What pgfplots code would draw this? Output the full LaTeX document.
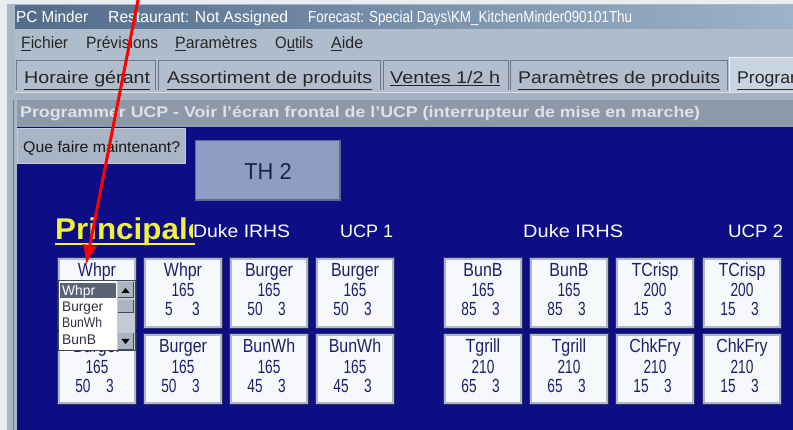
\documentclass[border=0pt]{standalone}
\usepackage{pgfplots}
\pgfplotsset{compat=1.18}
\usetikzlibrary{arrows.meta}
\usepackage{graphicx}
\usepackage{fontspec}
\setmainfont{Liberation Sans}
\definecolor{pagebg}{HTML}{E9EDF2}
\definecolor{panel}{HTML}{A9B6C6}
\definecolor{titleL}{HTML}{536C8A}
\definecolor{titleR}{HTML}{9CB3C9}
\definecolor{menubg}{HTML}{AEBCCB}
\definecolor{tabbg}{HTML}{B2BECD}
\definecolor{tabsel}{HTML}{C8D4E1}
\definecolor{tabline}{HTML}{6E7A8A}
\definecolor{sepbg}{HTML}{A6B2C1}
\definecolor{headbg}{HTML}{8D98A8}
\definecolor{headtx}{HTML}{DDE1E8}
\definecolor{navy}{HTML}{0D0D86}
\definecolor{btnbg}{HTML}{A9B4C5}
\definecolor{thbg}{HTML}{8E9DC3}
\definecolor{thline}{HTML}{5A6A92}
\definecolor{thtx}{HTML}{1C2444}
\definecolor{cellout}{HTML}{2B3060}
\definecolor{cellframe}{HTML}{AEB6CE}
\definecolor{cellin}{HTML}{F7F8FC}
\definecolor{celltx}{HTML}{1E2068}
\definecolor{yel}{HTML}{F2F23C}
\definecolor{ddframe}{HTML}{404858}
\definecolor{ddsel}{HTML}{5A6275}
\definecolor{ddtx}{HTML}{303040}
\definecolor{sbbg}{HTML}{C4CAD4}
\definecolor{sbbtn}{HTML}{ACB4C0}
\newsavebox\tmpbox
\newcommand{\rect}[5]{\addplot[draw=none, fill=#5, mark=none] coordinates {(#1,#2) (#3,#2) (#3,#4) (#1,#4)} --cycle;}
% fit text horizontally to a width, keeping the font's height
\newcommand{\fitx}[5]{\node[anchor=base west, inner sep=0pt, text=#5] at (axis cs:#1,#2) {\sbox\tmpbox{#4}\pgfmathsetmacro\sx{#3/\wd\tmpbox}\scalebox{\sx}[1]{\usebox\tmpbox}};}
\newcommand{\fs}[1]{\fontsize{#1}{#1}\selectfont}
\newcommand{\ct}[3]{\node[anchor=base, inner sep=0pt, text=celltx] at (axis cs:#1,#2) {\scalebox{0.72}[1]{\fs{19}#3}};}
\newcommand{\cn}[3]{\node[anchor=base, inner sep=0pt, text=celltx] at (axis cs:#1,#2) {\scalebox{0.84}[1]{\fs{19}#3}};}
% cell: x1, y1, name, value, a, b
\newcommand{\cell}[6]{%
  \rect{#1}{#2}{#1+80}{#2+72}{cellout}
  \rect{#1+1}{#2+1}{#1+79}{#2+71}{cellframe}
  \rect{#1+3}{#2+3}{#1+77}{#2+69}{cellin}
  \cn{#1+40}{#2+20}{#3}
  \ct{#1+40}{#2+40}{#4}
  \ct{#1+26}{#2+59}{#5}
  \ct{#1+53}{#2+59}{#6}
}
\begin{document}
\begin{tikzpicture}
\begin{axis}[
  scale only axis, width=793pt, height=430pt,
  xmin=0, xmax=793, ymin=0, ymax=430, y dir=reverse,
  hide axis, clip=true]
% background and frame
\rect{0}{0}{793}{430}{pagebg}
\rect{7}{4}{793}{430}{panel}
% title bar
\addplot[draw=none, left color=titleL, right color=titleR, mark=none] coordinates {(15,6) (793,6) (793,29) (15,29)} --cycle;
\fitx{16}{23}{72}{\fs{16}PC Minder}{white}
\fitx{108}{23}{180}{\fs{16}Restaurant: Not Assigned}{white}
\fitx{308}{23}{324}{\fs{16}Forecast: Special Days\textbackslash KM\_KitchenMinder090101Thu}{white}
% menu bar
\rect{15}{29}{793}{56}{menubg}
\fitx{21}{49}{47}{\fs{16.5}\underline{F}ichier}{black!85}
\fitx{86}{49}{72}{\fs{16.5}P\underline{r}évisions}{black!85}
\fitx{175}{49}{82}{\fs{16.5}\underline{P}aramètres}{black!85}
\fitx{275}{49}{38}{\fs{16.5}O\underline{u}tils}{black!85}
\fitx{331}{49}{32}{\fs{16.5}\underline{A}ide}{black!85}
% tab row
\rect{15}{56}{793}{92}{tabbg}
\rect{16}{60}{156}{90}{tabline}
\rect{17}{61}{155}{90}{tabbg}
\rect{158}{60}{381}{90}{tabline}
\rect{159}{61}{380}{90}{tabbg}
\rect{383}{60}{509}{90}{tabline}
\rect{384}{61}{508}{90}{tabbg}
\rect{510}{60}{728}{90}{tabline}
\rect{511}{61}{727}{90}{tabbg}
\rect{729}{57}{793}{92}{white!70!tabsel}
\rect{730}{58}{793}{92}{tabsel}
\fitx{24}{84}{126}{\fs{17}\underline{Horaire gérant}}{black!85}
\fitx{167}{84}{205}{\fs{17}\underline{Assortiment de produits}}{black!85}
\fitx{390}{84}{110}{\fs{17}\underline{Ventes 1/2 h}}{black!85}
\fitx{518}{84}{202}{\fs{17}\underline{Paramètres de produits}}{black!85}
\fitx{737}{84}{98}{\fs{17}\underline{Programmer}}{black!85}
% separator
\rect{15}{92}{793}{100}{sepbg}
\rect{15}{92}{793}{93}{white!60!sepbg}
% header bar
\rect{15}{100}{793}{127}{headbg}
\fitx{20}{118}{680}{\fs{15.5}\bfseries Programmer UCP - Voir l'écran frontal de l'UCP (interrupteur de mise en marche)}{headtx}
% left border inside panel
\rect{7}{100}{17}{430}{panel}
\rect{13}{100}{14}{430}{tabline}
% blue area
\rect{17}{127}{793}{430}{navy}
% Que faire button
\rect{17}{128}{186}{164}{btnbg!70!white}
\rect{18}{129}{185}{163}{btnbg}
\fitx{23}{153}{157}{\fs{15.5}Que faire maintenant?}{black!90}
% TH 2 box
\rect{195}{140}{341}{201}{thline}
\rect{196}{141}{339}{199}{thbg}
\node[anchor=center, inner sep=0pt, text=thtx] at (axis cs:268,171) {\scalebox{0.95}[1]{\fs{23}TH 2}};
% Principale (clipped by the next label, as in the window)
\begin{scope}
\clip (axis cs:40,205) rectangle (axis cs:192,250);
\fitx{55}{240}{150}{\fs{30}\bfseries Principale}{yel}
\end{scope}
\addplot[yel, line width=2pt, mark=none] coordinates {(55,244) (195,244)};
\fitx{193}{238}{97}{\fs{18}Duke IRHS}{white}
\fitx{340}{238}{53}{\fs{18}UCP 1}{white}
\fitx{523}{238}{100}{\fs{18}Duke IRHS}{white}
\fitx{728}{238}{55}{\fs{18}UCP 2}{white}
% cells row 1
\cell{57}{257}{Whpr}{}{}{}
\cell{143}{257}{Whpr}{165}{5}{3}
\cell{229}{257}{Burger}{165}{50}{3}
\cell{315}{257}{Burger}{165}{50}{3}
\cell{443}{257}{BunB}{165}{85}{3}
\cell{529}{257}{BunB}{165}{85}{3}
\cell{615}{257}{TCrisp}{200}{15}{3}
\cell{702}{257}{TCrisp}{200}{15}{3}
% cells row 2
\cell{57}{333}{}{165}{50}{3}
\cell{143}{333}{Burger}{165}{50}{3}
\cell{229}{333}{BunWh}{165}{45}{3}
\cell{315}{333}{BunWh}{165}{45}{3}
\cell{443}{333}{Tgrill}{210}{65}{3}
\cell{529}{333}{Tgrill}{210}{65}{3}
\cell{615}{333}{ChkFry}{210}{15}{3}
\cell{702}{333}{ChkFry}{210}{15}{3}
% the lower edge of the hidden "Burger" label below the list
\begin{scope}
\clip (axis cs:60,351.5) rectangle (axis cs:134,360);
\cn{97}{353}{Burger}
\end{scope}
% dropdown list
\rect{58}{280}{136}{351}{ddframe}
\rect{59}{281}{117}{350}{white}
\rect{60}{283}{116}{298}{ddsel}
\fitx{62}{296}{33}{\fs{14}Whpr}{white}
\fitx{62}{312}{41}{\fs{14}Burger}{ddtx}
\fitx{62}{328}{40}{\fs{14}BunWh}{ddtx}
\fitx{62}{344}{34}{\fs{14}BunB}{ddtx}
\rect{117}{281}{135}{350}{sbbg}
\rect{118}{282}{134}{298}{ddframe}
\rect{118}{282}{133}{297}{sbbtn}
\rect{118}{300}{134}{313}{ddframe}
\rect{118}{300}{133}{312}{sbbtn}
\rect{118}{333}{134}{350}{ddframe}
\rect{118}{333}{133}{349}{sbbtn}
\addplot[draw=none, fill=black, mark=none] coordinates {(121.5,293) (129.5,293) (125.5,288)} --cycle;
\addplot[draw=none, fill=black, mark=none] coordinates {(121.5,339) (129.5,339) (125.5,344)} --cycle;
% red arrow
\addplot[red, line width=3pt, mark=none, -{Latex[length=20pt,width=15pt]}] coordinates {(139,-5) (86,265)};
\end{axis}
\end{tikzpicture}
\end{document}
